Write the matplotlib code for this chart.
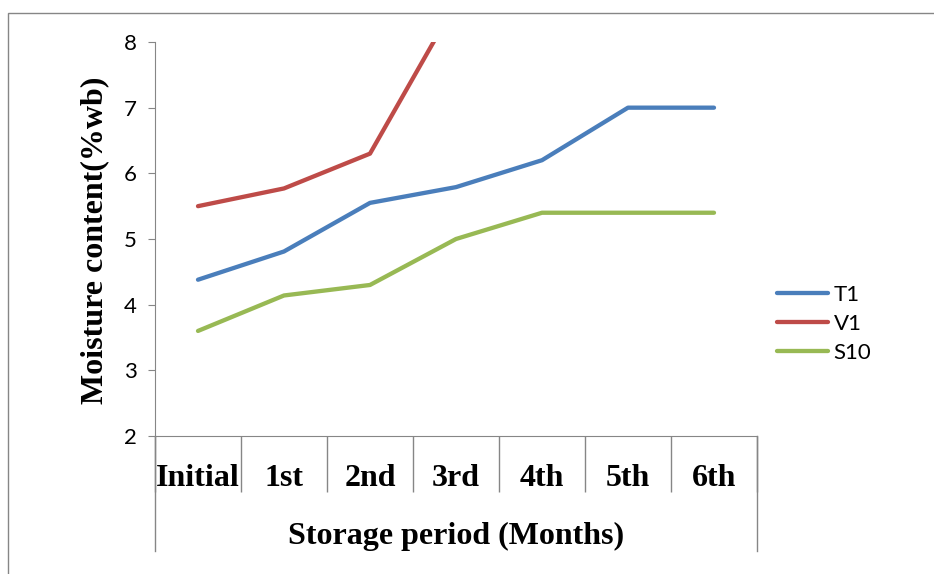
import numpy as np
import matplotlib.pyplot as plt
from matplotlib.patches import Rectangle
from matplotlib.lines import Line2D

months = ['Initial', '1st', '2nd', '3rd', '4th', '5th', '6th']
t1 = [4.38, 4.81, 5.55, 5.79, 6.2, 7.0, 7.0]
v1 = [5.5, 5.77, 6.3, 8.6, np.nan, np.nan, np.nan]
s10 = [3.6, 4.14, 4.3, 5.0, 5.4, 5.4, 5.4]

labels = ('T1', 'V1', 'S10')
colours = ('#4A7EBB', '#BE4B48', '#98B954')
grey = '#868686'

fig = plt.figure(figsize=(9.34, 5.74), dpi=100)
ax = fig.add_axes([155/934, 1-436/574, (757-155)/934, (436-42)/574])

x = np.arange(len(months))
for vals, lab, col in zip((t1, v1, s10), labels, colours):
    ax.plot(x, vals, color=col, lw=3.1, label=lab, solid_capstyle='round')

ax.set_xlim(-0.5, len(months)-0.5)
ax.set_ylim(2, 8)
ax.set_yticks(range(2, 9))
ax.tick_params(axis='y', direction='out', length=5, color=grey, labelsize=16, pad=8)
for t in ax.get_yticklabels():
    t.set_family('Lato')

# category boxes under the axis
ax.set_xticks(np.arange(-0.5, len(months)))
ax.set_xticklabels([])
ax.tick_params(axis='x', direction='out', length=40, color=grey, width=1)
for i, m in enumerate(months):
    ax.text(i, -43/394, m, transform=ax.get_xaxis_transform(), ha='center', va='center',
            family='Liberation Serif', fontweight='bold', fontsize=23)
for xe in (0, 1):
    ax.add_line(Line2D([xe, xe], [0, -(551-436)/394], transform=ax.transAxes,
                       color=grey, lw=1, clip_on=False))
ax.text(0.5, -100/394, 'Storage period (Months)', transform=ax.transAxes, ha='center', va='center',
        family='Liberation Serif', fontweight='bold', fontsize=23)

ax.spines['top'].set_visible(False)
ax.spines['right'].set_visible(False)
ax.spines['left'].set_color(grey)
ax.spines['bottom'].set_color(grey)

fig.text(95/934, 1-240/574, 'Moisture content(%wb)', rotation=90, ha='center', va='center',
         family='Liberation Serif', fontweight='bold', fontsize=23)

leg = ax.legend(loc='center left', bbox_to_anchor=(777/934, 1-324/574), bbox_transform=fig.transFigure,
                frameon=False, borderaxespad=0, borderpad=0, handlelength=2.3, handletextpad=0.25,
                labelspacing=0.4, prop={'family': 'Lato', 'size': 16})

fig.patches.append(Rectangle((8/934, -0.1), 1.2, 1-13/574+0.1, transform=fig.transFigure,
                             fill=False, edgecolor=grey, lw=1))

plt.savefig('out.png', dpi=100)
